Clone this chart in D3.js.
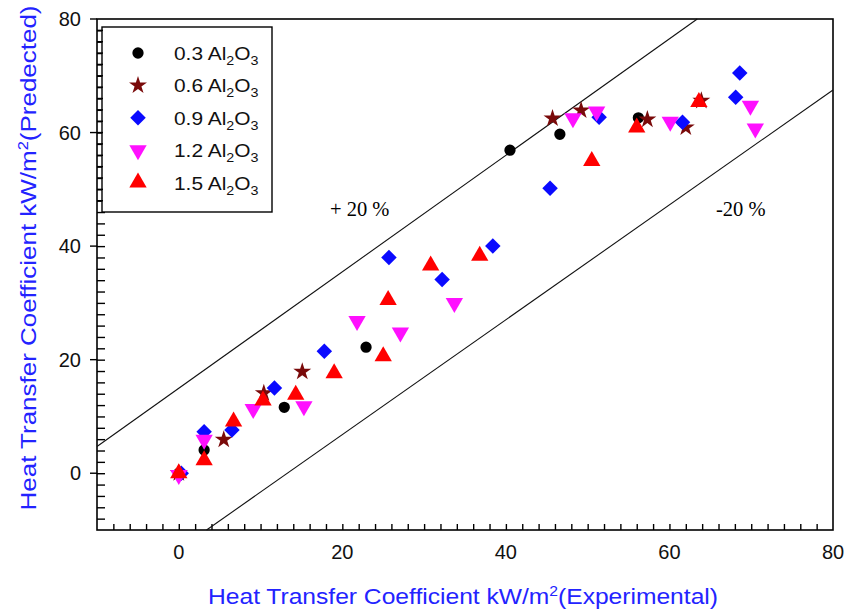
<!DOCTYPE html>
<html>
<head>
<meta charset="utf-8">
<script src="https://cdn.jsdelivr.net/npm/d3@7"></script>
<style>
  body { margin: 0; background: #fff; }
  svg { display: block; }
</style>
</head>
<body>
<div id="chart"></div>
<script>
// data: [experimental, predicted]
const seriesNames = ["0.3", "0.6", "0.9", "1.2", "1.5"];

const pts03 = [[0, 0], [3.1, 4.1], [12.9, 11.6], [22.9, 22.2], [40.5, 56.9], [46.6, 59.7], [56.2, 62.6]];
const pts06 = [[0, 0], [5.5, 5.9], [10.4, 14.1], [15.1, 17.9], [45.7, 62.5], [49.2, 63.9], [57.3, 62.3], [62.0, 60.9], [63.9, 65.6]];
const pts09 = [[0.3, 0], [3.1, 7.3], [6.5, 7.6], [11.7, 15.0], [17.8, 21.5], [25.7, 38.0], [32.2, 34.1], [38.4, 40.0],
  [45.4, 50.2], [51.4, 62.7], [61.6, 61.8], [68.1, 66.2], [68.6, 70.5]];
const pts12 = [[0, -0.3], [3.1, 5.9], [9.1, 11.3], [15.3, 11.8], [21.8, 26.8], [27.1, 24.8], [33.7, 30.0],
  [48.2, 62.5], [51.1, 63.7], [60.1, 61.9], [69.9, 64.7], [70.5, 60.7]];
const pts15 = [[0, 0], [3.1, 2.3], [6.7, 9.1], [10.3, 12.8], [14.3, 13.8], [19.0, 17.6], [25.0, 20.6], [25.6, 30.5],
  [30.8, 36.6], [36.8, 38.3], [50.5, 55.0], [56.0, 60.9], [63.6, 65.4]];

// +/- 20 % band lines (end points)
const upperLine = [[-10, 4.7], [63.4, 80]];
const lowerLine = [[3.4, -10], [80, 67.5]];

const xTicks = [0, 20, 40, 60, 80];
const yTicks = [0, 20, 40, 60, 80];

const width = 856, height = 613;
const x = d3.scaleLinear().domain([-10, 80]).range([97, 833]);
const y = d3.scaleLinear().domain([-10, 80]).range([530, 19]);

const styles = [
  { data: pts03, color: "#000000", symbol: d3.symbolCircle, size: 100, rotate: 0 },
  { data: pts06, color: "#7a0a0a", symbol: d3.symbolStar, size: 100, rotate: 0 },
  { data: pts09, color: "#0a0aff", symbol: d3.symbolSquare, size: 120, rotate: 45 },
  { data: pts12, color: "#ff10ff", symbol: d3.symbolTriangle, size: 130, rotate: 180 },
  { data: pts15, color: "#ff0000", symbol: d3.symbolTriangle, size: 130, rotate: 0 }
];

const svg = d3.select("#chart").append("svg")
  .attr("width", width).attr("height", height)
  .attr("font-family", "Arial, 'Liberation Sans', sans-serif");

// frame
svg.append("rect")
  .attr("x", x(-10)).attr("y", y(80))
  .attr("width", x(80) - x(-10)).attr("height", y(-10) - y(80))
  .attr("fill", "none").attr("stroke", "#000").attr("stroke-width", 1.6);

// bottom axis: ticks inside
const xAxis = d3.axisBottom(x).tickValues(d3.range(-8, 80, 2)).tickSize(-6).tickFormat("");
svg.append("g").attr("transform", `translate(0,${y(-10)})`).call(xAxis)
  .call(g => g.select(".domain").remove())
  .call(g => g.selectAll("line").attr("stroke-width", 1.4));

svg.append("g").selectAll("text").data(xTicks).join("text")
  .attr("x", d => x(d)).attr("y", y(-10) + 29)
  .attr("text-anchor", "middle").attr("font-size", 20).attr("fill", "#111")
  .text(d => d);

// left axis: minor inside, major also outside
const yAxis = d3.axisLeft(y).tickValues(d3.range(-8, 80, 2)).tickSize(-8).tickFormat("");
svg.append("g").attr("transform", `translate(${x(-10)},0)`).call(yAxis)
  .call(g => g.select(".domain").remove())
  .call(g => g.selectAll("line").attr("stroke-width", 1.4));

svg.append("g").selectAll("line").data(yTicks).join("line")
  .attr("x1", x(-10) - 7).attr("x2", x(-10))
  .attr("y1", d => y(d)).attr("y2", d => y(d))
  .attr("stroke", "#000").attr("stroke-width", 1.4);

svg.append("g").selectAll("text").data(yTicks).join("text")
  .attr("x", x(-10) - 16).attr("y", d => y(d) + 7)
  .attr("text-anchor", "end").attr("font-size", 20).attr("fill", "#111")
  .text(d => d);

// band lines
const line = d3.line().x(d => x(d[0])).y(d => y(d[1]));
[upperLine, lowerLine].forEach(l => {
  svg.append("path").datum(l).attr("d", line)
    .attr("fill", "none").attr("stroke", "#111").attr("stroke-width", 1.1);
});

svg.append("text").attr("x", 330).attr("y", 216)
  .attr("font-family", "'Liberation Serif', 'Times New Roman', serif").attr("font-size", 20.5)
  .text("+ 20 %");
svg.append("text").attr("x", 716).attr("y", 216)
  .attr("font-family", "'Liberation Serif', 'Times New Roman', serif").attr("font-size", 20.5)
  .text("-20 %");

// points
styles.forEach(s => {
  const sym = d3.symbol().type(s.symbol).size(s.size);
  svg.append("g").selectAll("path").data(s.data).join("path")
    .attr("d", sym)
    .attr("transform", d => `translate(${x(d[0])},${y(d[1])}) rotate(${s.rotate})`)
    .attr("fill", s.color);
});

// legend
const legend = svg.append("g");
legend.append("rect")
  .attr("x", 102).attr("y", 27).attr("width", 170).attr("height", 185)
  .attr("fill", "#fff").attr("stroke", "#000").attr("stroke-width", 1.4);

// left axis ticks are drawn over the legend box edge
svg.append("g").selectAll("line").data(d3.range(48, 80, 2)).join("line")
  .attr("x1", x(-10)).attr("x2", x(-10) + 6)
  .attr("y1", d => y(d)).attr("y2", d => y(d))
  .attr("stroke", "#000").attr("stroke-width", 1.4);

styles.forEach((s, i) => {
  const cy = 53 + i * 32.4;
  legend.append("path")
    .attr("d", d3.symbol().type(s.symbol).size(s.size)())
    .attr("transform", `translate(138,${cy}) rotate(${s.rotate})`)
    .attr("fill", s.color);
  const t = legend.append("text")
    .attr("transform", `translate(174,${cy + 7}) scale(1.1,1)`)
    .attr("font-size", 19).attr("fill", "#111");
  t.append("tspan").text(seriesNames[i] + " Al");
  t.append("tspan").attr("font-size", 13).attr("dy", 5).text("2");
  t.append("tspan").attr("dy", -5).text("O");
  t.append("tspan").attr("font-size", 13).attr("dy", 5).text("3");
});

// axis titles
const xt = svg.append("text").attr("x", 463).attr("y", 604)
  .attr("text-anchor", "middle").attr("font-size", 22).attr("fill", "#2323ff")
  .attr("textLength", 510).attr("lengthAdjust", "spacingAndGlyphs");
xt.append("tspan").text("Heat Transfer Coefficient kW/m");
xt.append("tspan").attr("font-size", 14).attr("dy", -8).text("2");
xt.append("tspan").attr("dy", 8).text("(Experimental)");

const yt = svg.append("text")
  .attr("transform", `translate(36,258) rotate(-90)`)
  .attr("text-anchor", "middle").attr("font-size", 22).attr("fill", "#2323ff")
  .attr("textLength", 505).attr("lengthAdjust", "spacingAndGlyphs");
yt.append("tspan").text("Heat Transfer Coefficient  kW/m");
yt.append("tspan").attr("font-size", 14).attr("dy", -8).text("2");
yt.append("tspan").attr("dy", 8).text("(Predected)");
</script>
</body>
</html>
